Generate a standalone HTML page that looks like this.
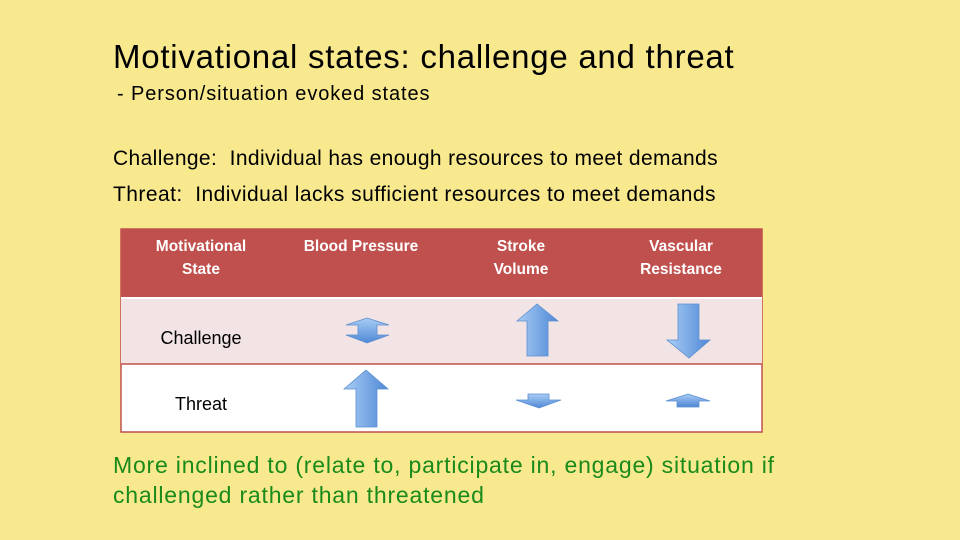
<!DOCTYPE html>
<html><head><meta charset="utf-8"><style>
body{margin:0;width:960px;height:540px;background:#f8e98f;position:relative;overflow:hidden;font-family:"Liberation Sans",sans-serif}
.t{position:absolute;white-space:nowrap;color:#000}
</style></head><body>
<div class="t" style="left:113px;top:38px;font-size:33px;letter-spacing:0.75px">Motivational states: challenge and threat</div>
<div class="t" style="left:117px;top:83px;font-size:20px;letter-spacing:0.9px">- Person/situation evoked states</div>
<div class="t" style="left:113px;top:147px;font-size:21px;letter-spacing:0.38px">Challenge:&nbsp; Individual has enough resources to meet demands</div>
<div class="t" style="left:113px;top:183px;font-size:21px;letter-spacing:0.45px">Threat:&nbsp; Individual lacks sufficient resources to meet demands</div>

<svg style="position:absolute;left:0;top:0" width="960" height="540">
<defs><linearGradient id="g" x1="0" x2="1" y1="0" y2="0"><stop offset="0" stop-color="#a9cdf5"/><stop offset="1" stop-color="#4f88d6"/></linearGradient>
<linearGradient id="gv" x1="0" x2="0" y1="0" y2="1"><stop offset="0" stop-color="#a9cdf5"/><stop offset="1" stop-color="#4f88d6"/></linearGradient></defs>
<rect x="121" y="229" width="641" height="203" fill="#fff" stroke="#c0504d" stroke-width="1.5"/>
<rect x="121" y="229" width="641" height="69" fill="#c0504d"/>
<rect x="121" y="298" width="641" height="66" fill="#f2e4e4"/>
<line x1="121" y1="298" x2="762" y2="298" stroke="#fff" stroke-width="2"/>
<line x1="121" y1="364" x2="762" y2="364" stroke="#c0504d" stroke-width="1.5"/>
<g font-family="Liberation Sans,sans-serif" font-weight="bold" font-size="15.5" fill="#fff" text-anchor="middle">
<text x="201" y="251">Motivational<tspan x="201" dy="23">State</tspan></text>
<text x="361" y="251">Blood Pressure</text>
<text x="521" y="251">Stroke<tspan x="521" dy="23">Volume</tspan></text>
<text x="681" y="251">Vascular<tspan x="681" dy="23">Resistance</tspan></text>
</g>
<g font-family="Liberation Sans,sans-serif" font-size="18" fill="#000" text-anchor="middle">
<text x="201" y="344">Challenge</text>
<text x="201" y="410">Threat</text>
</g>
<g stroke="#5b8fd0" stroke-width="0.8">
<path fill="url(#gv)" d="M346,325 L367,318 L389,325 L377,325 L377,335 L389,335 L367,343 L346,335 L358,335 L358,325 Z"/>
<path fill="url(#g)" d="M517,321 L537,304 L558,321 L548,321 L548,356 L527,356 L527,321 Z"/>
<path fill="url(#g)" d="M678,304 L699,304 L699,340 L710,340 L689,358 L667,340 L678,340 Z"/>
<path fill="url(#g)" d="M344,389 L366,370 L388,389 L377,389 L377,427 L356,427 L356,389 Z"/>
<path fill="url(#gv)" d="M528,394 L549,394 L549,400 L561,400 L539,408 L516,400 L528,400 Z"/>
<path fill="url(#gv)" d="M666,401 L688,394 L710,401 L699,401 L699,407 L677,407 L677,401 Z"/>
</g>
</svg>

<div class="t" style="left:113px;top:450px;font-size:23px;line-height:30px;color:#1a8a1a;letter-spacing:0.8px">More inclined to (relate to, participate in, engage) situation if<br>challenged rather than threatened</div>
</body></html>
